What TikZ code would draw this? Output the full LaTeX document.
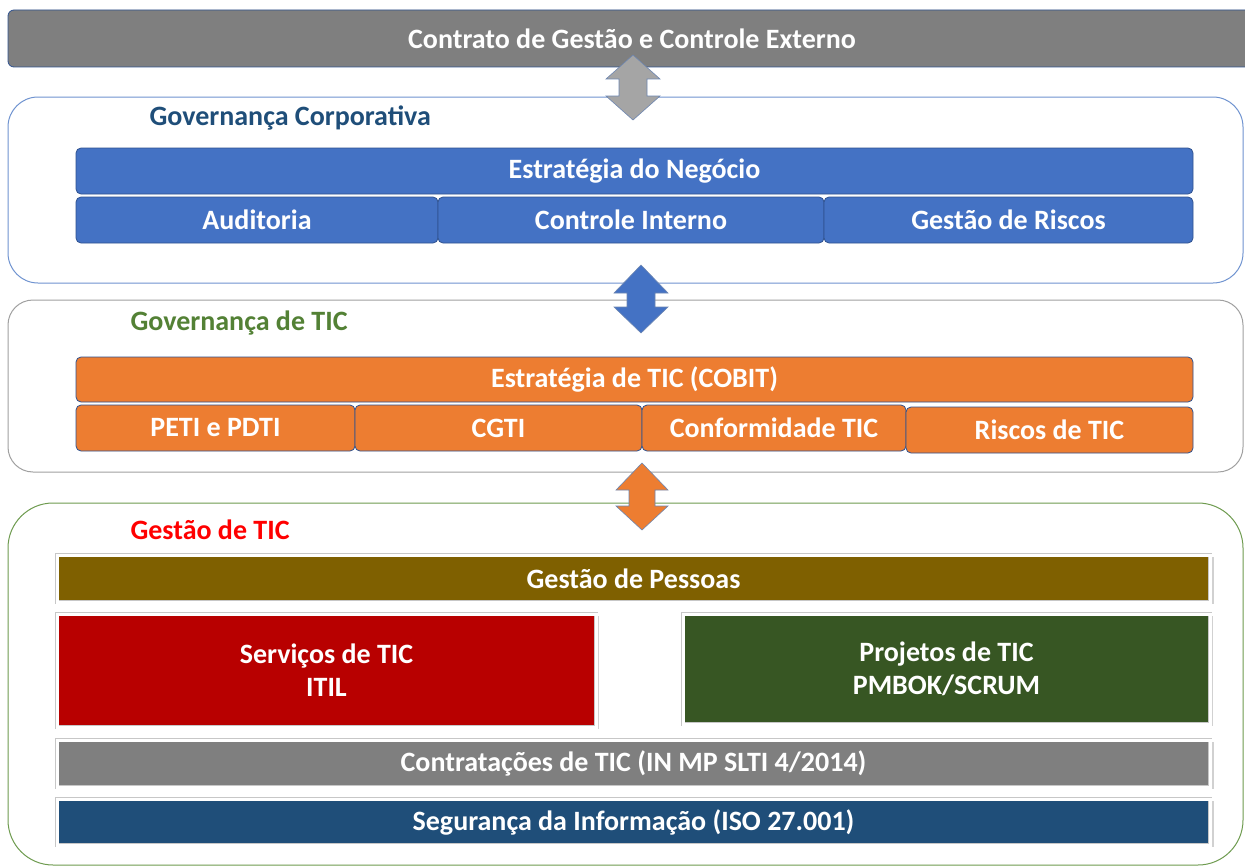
\documentclass[tikz,border=0pt]{standalone}
\usepackage{fontspec}
\setmainfont{Carlito}
\usetikzlibrary{shadows}
\definecolor{topgray}{HTML}{7F7F7F}
\definecolor{bluefill}{HTML}{4472C4}
\definecolor{blueedge}{HTML}{2F528F}
\definecolor{orangefill}{HTML}{ED7D31}
\definecolor{panelblue}{HTML}{6F93D0}
\definecolor{panelgray}{HTML}{A0A0A0}
\definecolor{panelgreen}{HTML}{6E9B4F}
\definecolor{titleblue}{HTML}{1F4E79}
\definecolor{titlegreen}{HTML}{538135}
\definecolor{titlered}{HTML}{FF0000}
\definecolor{olive}{HTML}{7F6000}
\definecolor{darkred}{HTML}{B80000}
\definecolor{darkgreen}{HTML}{375623}
\definecolor{navy}{HTML}{1F4E79}
\definecolor{arrowgray}{HTML}{A5A5A5}
\tikzset{
  txt/.style={font=\fontsize{28}{33}\selectfont\bfseries},
  panel/.style={draw=#1, line width=1pt, fill=white, rounded corners=30pt, inner sep=0pt, outer sep=0pt},
  title/.style={txt, anchor=west, text=#1},
  govbox/.style={txt, text=white, fill=#1, draw=blueedge, line width=0.8pt, rounded corners=5pt, inner sep=0pt, outer sep=0pt},
  tierbox/.style={txt, text=white, fill=#1, draw=black!22, double=white, double distance=3pt, line width=0.8pt,
    inner sep=0pt, outer sep=0pt, align=center,
    drop shadow={shadow xshift=2pt, shadow yshift=-2pt, opacity=0.18, fill=black, shadow scale=1.004}},
  dblarrow/.style={fill=#1, draw=blueedge!70, line width=0.6pt, line join=miter}
}
\begin{document}
\begin{tikzpicture}[x=1pt,y=-1pt]
\useasboundingbox (0,0) rectangle (1245,867);
% top bar
\node[txt, text=white, fill=topgray, draw=blueedge, line width=0.8pt, rounded corners=6pt,
  minimum width=1248pt, minimum height=57pt, inner sep=0pt] (top) at (632,38.5) {Contrato de Gestão e Controle Externo};

% panel 1: Governança Corporativa
\node[panel=panelblue, minimum width=1235pt, minimum height=186pt] (gc) at (625.5,190) {};
\node[title=titleblue] (gctitle) at (146,118) {Governança Corporativa};
\node[govbox=bluefill, minimum width=1117pt, minimum height=46pt] (strat) at (634.5,171) {Estratégia do Negócio};
\node[govbox=bluefill, minimum width=362pt, minimum height=46pt] (aud) at (257,220) {Auditoria};
\node[govbox=bluefill, minimum width=386pt, minimum height=46pt] (ci) at (631,220) {Controle Interno};
\node[govbox=bluefill, minimum width=369pt, minimum height=46pt] (gr) at (1008.5,220) {Gestão de Riscos};

% panel 2: Governança de TIC
\node[panel=panelgray, rounded corners=25pt, minimum width=1235pt, minimum height=172pt] (gt) at (625.5,386) {};
\node[title=titlegreen] (gttitle) at (127,323) {Governança de TIC};
\node[govbox=orangefill, minimum width=1117pt, minimum height=45pt] (stic) at (634.5,379.5) {Estratégia de TIC (COBIT)};
\node[govbox=orangefill, minimum width=279pt, minimum height=46pt] (peti) at (215.5,428) {PETI e PDTI};
\node[govbox=orangefill, minimum width=287pt, minimum height=46pt] (cgti) at (498.5,428) {CGTI};
\node[govbox=orangefill, minimum width=264pt, minimum height=46pt] (conf) at (774,428) {Conformidade TIC};
\node[govbox=orangefill, minimum width=287pt, minimum height=46pt] (rtic) at (1049.5,430) {Riscos de TIC};

% panel 3: Gestão de TIC
\node[panel=panelgreen, rounded corners=45pt, minimum width=1235pt, minimum height=362pt] (gtic) at (625.5,684) {};
\node[title=titlered] (gtictitle) at (127,530) {Gestão de TIC};
\node[tierbox=olive, minimum width=1153pt, minimum height=47pt] (gp) at (633.5,578.5) {Gestão de Pessoas};
\node[tierbox=darkred, minimum width=539pt, minimum height=113pt] (serv) at (326.5,670.5) {Serviços de TIC\\ITIL};
\node[tierbox=darkgreen, minimum width=527pt, minimum height=110pt] (proj) at (946.5,669) {Projetos de TIC\\PMBOK/SCRUM};
\node[tierbox=topgray, minimum width=1153pt, minimum height=47pt] (contr) at (633.5,763.5) {Contratações de TIC (IN MP SLTI 4/2014)};
\node[tierbox=navy, minimum width=1153pt, minimum height=46pt] (seg) at (633.5,822) {Segurança da Informação (ISO 27.001)};

% double arrows between layers
\draw[dblarrow=arrowgray] (633,55) -- (660,79) -- (647,79) -- (647,96) -- (660,96) -- (633,120)
  -- (606,96) -- (619,96) -- (619,79) -- (606,79) -- cycle;
\draw[dblarrow=bluefill] (641,265) -- (668,293) -- (655,293) -- (655,307) -- (668,307) -- (641,333)
  -- (614,307) -- (627,307) -- (627,293) -- (614,293) -- cycle;
\draw[dblarrow=orangefill] (642,463) -- (668,490) -- (655,490) -- (655,506) -- (668,506) -- (642,530)
  -- (616,506) -- (629,506) -- (629,490) -- (616,490) -- cycle;
\end{tikzpicture}
\end{document}
